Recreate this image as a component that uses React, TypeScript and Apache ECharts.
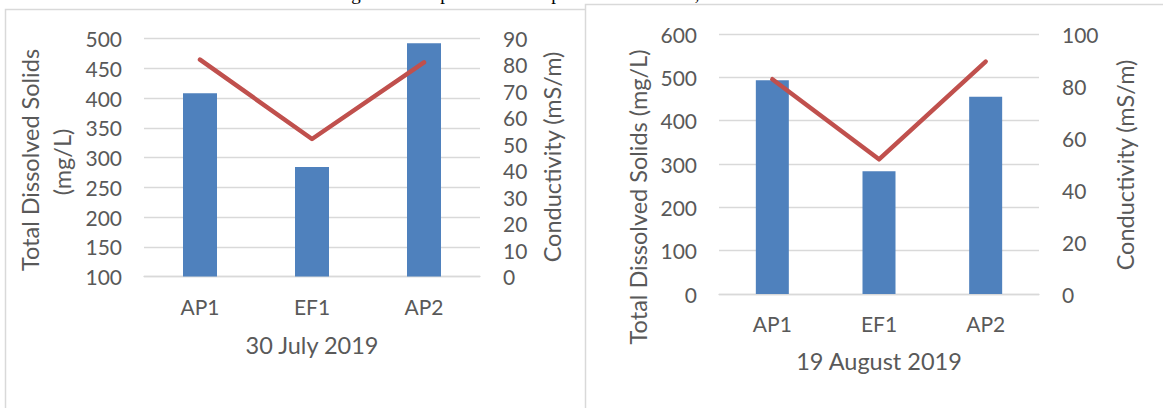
import React, { useEffect, useRef } from "react";
import * as echarts from "echarts";

const categories = ["AP1", "EF1", "AP2"];

// 30 July 2019
const julyTds = [408, 284, 492];
const julyCond = [82, 52, 81];
const julyTitle = "30 July 2019";

// 19 August 2019
const augTds = [493, 283, 455];
const augCond = [82.6, 51.8, 89.4];
const augTitle = "19 August 2019";

const tdsName = "Total Dissolved Solids";
const tdsUnit = "(mg/L)";
const condName = "Conductivity (mS/m)";

// glyph fragments of the cut-off caption above the charts
const captionGlyphs = ["g", "p", "p", ","];
const captionGlyphX = [356, 445, 556, 697];

const FONT = "Lato";
const TXT = "#595959";
const GRID = "#D9D9D9";
const BAR = "#4F81BD";
const LINE = "#C0504D";

export default function App() {
  const ref = useRef<HTMLDivElement>(null);
  useEffect(() => {
    if (!ref.current) return;
    const chart = echarts.init(ref.current, undefined, { renderer: "svg" });
    const label = { color: TXT, fontFamily: FONT, fontSize: 21 };
    const xAxisBase = (gridIndex: number) => ({
      type: "category",
      gridIndex,
      data: categories,
      axisLine: { show: true, lineStyle: { color: GRID, width: 1.3 } },
      axisTick: { show: false },
      axisLabel: { ...label, margin: 19 },
    });
    const leftY = (gridIndex: number, min: number, max: number, interval: number) => ({
      type: "value",
      gridIndex,
      min,
      max,
      interval,
      position: "left",
      axisLine: { show: false },
      axisTick: { show: false },
      axisLabel: { ...label, margin: 22 },
      splitLine: { show: true, lineStyle: { color: GRID, width: 1.3 } },
    });
    const rightY = (gridIndex: number, min: number, max: number, interval: number) => ({
      type: "value",
      gridIndex,
      min,
      max,
      interval,
      position: "right",
      axisLine: { show: false },
      axisTick: { show: false },
      axisLabel: { ...label, margin: 23 },
      splitLine: { show: false },
    });
    const titleText = (text: string, x: number, y: number, rotate: boolean, size = 23.5) => ({
      type: "text",
      x,
      y,
      rotation: rotate ? Math.PI / 2 : 0,
      z: 10,
      style: {
        text,
        fill: TXT,
        font: `${size}px ${FONT}`,
        align: "center",
        verticalAlign: "middle",
      },
    });
    const glyphs = captionGlyphs.map((g, i) => ({
      type: "text",
      x: captionGlyphX[i],
      y: -7,
      z: 10,
      style: {
        text: g,
        fill: "#000",
        font: "19px 'Liberation Serif'",
        align: "center",
        verticalAlign: "middle",
      },
    }));
    chart.setOption({
      animation: false,
      grid: [
        { left: 144, top: 38.5, width: 336, height: 238 },
        { left: 719, top: 34, width: 320, height: 260 },
      ],
      xAxis: [xAxisBase(0), xAxisBase(1)],
      yAxis: [
        leftY(0, 100, 500, 50),
        rightY(0, 0, 90, 10),
        leftY(1, 0, 600, 100),
        rightY(1, 0, 100, 20),
      ],
      series: [
        { type: "bar", xAxisIndex: 0, yAxisIndex: 0, data: julyTds, barWidth: 34, itemStyle: { color: BAR }, z: 2 },
        {
          type: "line", xAxisIndex: 0, yAxisIndex: 1, data: julyCond, symbol: "none",
          lineStyle: { color: LINE, width: 4.5, cap: "round", join: "round" }, z: 3,
        },
        { type: "bar", xAxisIndex: 1, yAxisIndex: 2, data: augTds, barWidth: 33, itemStyle: { color: BAR }, z: 2 },
        {
          type: "line", xAxisIndex: 1, yAxisIndex: 3, data: augCond, symbol: "none",
          lineStyle: { color: LINE, width: 4.5, cap: "round", join: "round" }, z: 3,
        },
      ],
      graphic: [
        {
          type: "rect", z: -10,
          shape: { x: 5.5, y: 9.5, width: 700, height: 500 },
          style: { fill: "#fff", stroke: GRID, lineWidth: 1.5 },
        },
        {
          type: "rect", z: -9,
          shape: { x: 585.5, y: 4.5, width: 700, height: 500 },
          style: { fill: "#fff", stroke: GRID, lineWidth: 1.5 },
        },
        ...glyphs,
        titleText(tdsName, 30, 160, true),
        titleText(tdsUnit, 62, 162, true),
        titleText(condName, 552, 157, true),
        titleText(julyTitle, 312, 345, false),
        titleText(tdsName + " " + tdsUnit, 638, 197, true),
        titleText(condName, 1125, 165, true),
        titleText(augTitle, 879, 361, false),
      ],
    });
    return () => chart.dispose();
  }, []);
  return (
    <div
      ref={ref}
      style={{ position: "fixed", left: 0, top: 0, width: 1163, height: 408, background: "#fff" }}
    />
  );
}
